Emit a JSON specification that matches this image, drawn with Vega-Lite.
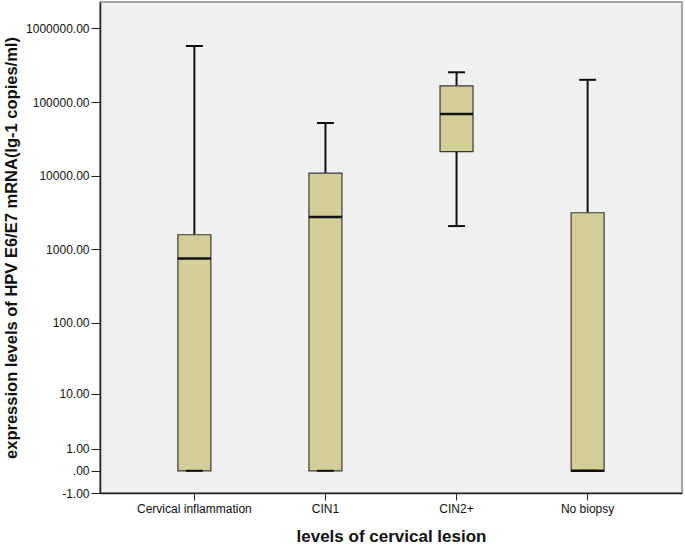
{
  "$schema": "https://vega.github.io/schema/vega-lite/v6.json",
  "width": 582,
  "height": 491,
  "autosize": {"type": "none"},
  "padding": {"left": 100, "top": 2, "right": 3, "bottom": 53},
  "background": "white",
  "config": {
    "view": {"fill": "#F0F0F0", "stroke": "#8a8a8a", "strokeWidth": 1.5},
    "font": "Liberation Sans",
    "axis": {"labelFont": "Liberation Sans", "titleFont": "Liberation Sans", "grid": false, "domainColor": "#222", "tickColor": "#222", "labelColor": "#111", "titleColor": "#111"}
  },
  "data": {
    "values": [
      {"group": "Cervical inflammation", "min": 0, "q1": 0, "median": 757, "q3": 1585, "max": 575000},
      {"group": "CIN1", "min": 0, "q1": 0, "median": 2750, "q3": 10880, "max": 51900},
      {"group": "CIN2+", "min": 2080, "q1": 21200, "median": 68700, "q3": 166000, "max": 253000},
      {"group": "No biopsy", "min": 0, "q1": 0, "median": 0, "q3": 3150, "max": 200000}
    ]
  },
  "encoding": {
    "x": {
      "field": "group", "type": "nominal", "sort": null,
      "scale": {"type": "band", "paddingInner": 0, "paddingOuter": 0.22},
      "axis": {"title": "levels of cervical lesion", "titleFontSize": 17, "titleFontWeight": "bold", "titlePadding": 14, "labelAngle": 0, "labelFontSize": 12, "labelPadding": 3, "tickSize": 7, "domainWidth": 1.5}
    }
  },
  "layer": [
    {
      "mark": {"type": "rule", "stroke": "#111", "strokeWidth": 2},
      "encoding": {
        "y": {"field": "q3", "type": "quantitative",
          "scale": {"type": "symlog", "constant": 1, "domain": [-1, 2270000], "nice": false, "zero": false},
          "axis": {"title": "expression levels of HPV E6/E7 mRNA(lg-1 copies/ml)", "titleFontSize": 16.5, "titleFontWeight": "bold", "titlePadding": 6,
            "values": [-1, 0, 1, 10, 100, 1000, 10000, 100000, 1000000],
            "labelExpr": "datum.value == 0 ? '.00' : (datum.value < 0 ? '-' + format(-datum.value, '.2f') : format(datum.value, '.2f'))",
            "labelFontSize": 12, "labelPadding": 2, "tickSize": 9, "domainWidth": 1.5}},
        "y2": {"field": "max"}
      }
    },
    {
      "mark": {"type": "rule", "stroke": "#111", "strokeWidth": 2},
      "encoding": {"y": {"field": "min", "type": "quantitative"}, "y2": {"field": "q1"}}
    },
    {
      "mark": {"type": "bar", "width": 33, "fill": "#D3CE97", "stroke": "#3a3a3a", "strokeWidth": 1.2},
      "encoding": {"y": {"field": "q1", "type": "quantitative"}, "y2": {"field": "q3"}}
    },
    {
      "mark": {"type": "tick", "orient": "horizontal", "size": 33, "thickness": 2.5, "color": "#111", "opacity": 1},
      "encoding": {"y": {"field": "median", "type": "quantitative"}}
    },
    {
      "mark": {"type": "tick", "orient": "horizontal", "size": 17, "thickness": 2, "color": "#111", "opacity": 1},
      "encoding": {"y": {"field": "max", "type": "quantitative"}}
    },
    {
      "mark": {"type": "tick", "orient": "horizontal", "size": 17, "thickness": 2, "color": "#111", "opacity": 1},
      "encoding": {"y": {"field": "min", "type": "quantitative"}}
    }
  ]
}
